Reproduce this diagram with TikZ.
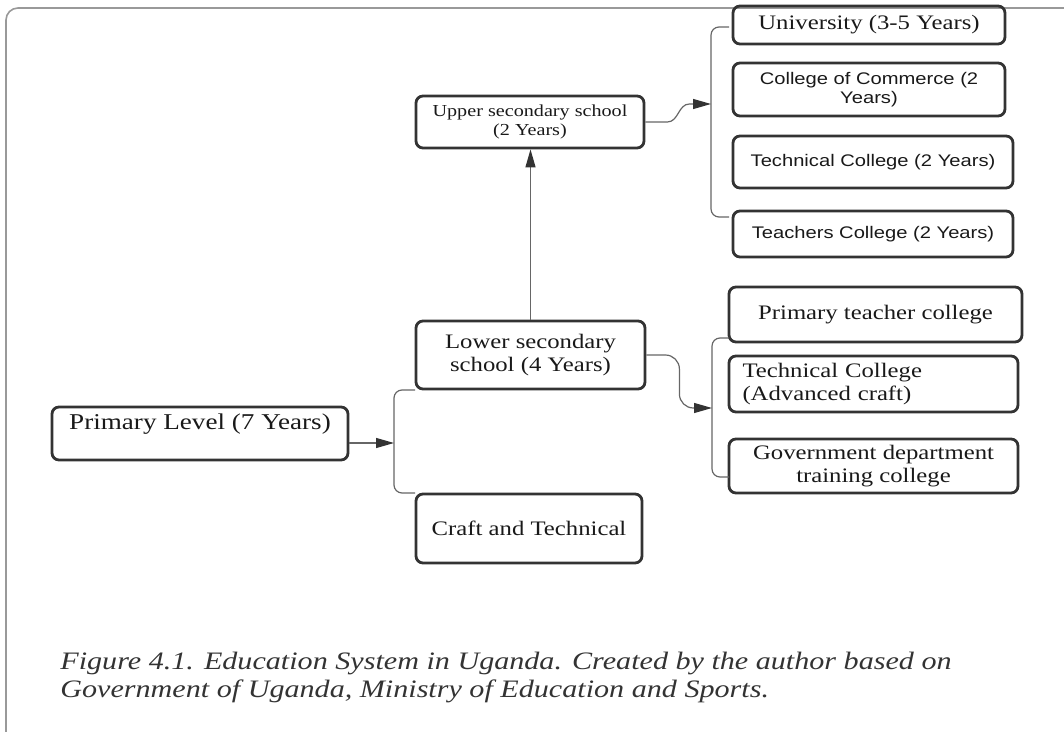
\documentclass[tikz,border=0pt]{standalone}
\usepackage{fontspec}
\setmainfont{Liberation Serif}[FakeStretch=1.2]
\newfontfamily\boxsans{Liberation Sans}[FakeStretch=1.2]
\usetikzlibrary{arrows.meta}
\definecolor{boxline}{HTML}{333333}
\definecolor{linkgray}{HTML}{666666}
\definecolor{framegray}{HTML}{999999}
\definecolor{capgray}{HTML}{333333}
\newcommand\boxfont{\fontsize{10.3}{11.6}\selectfont}
\newcommand\smallboxfont{\fontsize{8.4}{9.2}\selectfont}
\newcommand\bigboxfont{\fontsize{11.3}{13}\selectfont}
\newcommand\sansboxfont{\boxsans\fontsize{8.4}{9.4}\selectfont}
\newcommand\figcapfont{\itshape\fontsize{12.55}{13.6}\selectfont}
\begin{document}
\begin{tikzpicture}[x=0.5pt, y=-0.5pt,
  box/.style={draw=boxline, line width=1.4pt, rounded corners=3.5pt, align=center, inner sep=2pt, text=black!90},
  link/.style={draw=linkgray, line width=0.6pt},
  tip/.style={-{Triangle[length=9pt,width=5pt,color=boxline]}}]
\useasboundingbox (0,0) rectangle (1064,732);
\draw[framegray, line width=0.8pt, rounded corners=6pt] (6,732) -- (6,8) -- (1064,8);

\node[box, minimum width=136pt, minimum height=19pt, font=\boxfont] (uni) at (869,25) {University (3-5 Years)};
\node[box, minimum width=136pt, minimum height=26.5pt, font=\sansboxfont] (comm) at (869,89.5) {College of Commerce (2\\Years)};
\node[box, minimum width=140pt, minimum height=26pt, font=\sansboxfont] (techc) at (873,162) {Technical College (2 Years)};
\node[box, minimum width=140pt, minimum height=23pt, font=\sansboxfont] (teach) at (873,234) {Teachers College (2 Years)};

\node[box, minimum width=114pt, minimum height=26pt, font=\smallboxfont] (upper) at (530,122) {Upper secondary school\\(2 Years)};
\node[box, minimum width=114.5pt, minimum height=34pt, font=\boxfont] (lower) at (530.5,355) {Lower secondary\\school (4 Years)};
\node[box, minimum width=148pt, minimum height=26.5pt, font=\bigboxfont] (primary) at (200,433.5) {\raisebox{5pt}[0.7em][0.2em]{Primary Level (7 Years)}};
\node[box, minimum width=113pt, minimum height=34.5pt, font=\boxfont] (craft) at (529,528.5) {Craft and Technical};

\node[box, minimum width=146.5pt, minimum height=27.5pt, font=\boxfont] (ptc) at (875.5,314.5) {Primary teacher college};
\node[box, minimum width=144.5pt, minimum height=28pt, text width=131pt, inner xsep=6.75pt, align=left, font=\boxfont] (tca) at (873.5,384) {Technical College\\(Advanced craft)};
\node[box, minimum width=144.5pt, minimum height=27pt, font=\boxfont] (gov) at (873.5,466) {Government department\\training college};

\coordinate (ubt) at (729,27);
\coordinate (ubb) at (729,217);
\coordinate (ubr) at (711,104);
\coordinate (lbt) at (729,338);
\coordinate (lbb) at (729,477);
\coordinate (lbr) at (712,408);
\coordinate (pbt) at (415,390);
\coordinate (pbb) at (415,493);
\coordinate (pbr) at (394,443);

\draw[link, rounded corners=4pt] (ubt) -| (ubr) |- (ubb);
\draw[link, rounded corners=4pt] (lbt) -| (lbr) |- (lbb);
\draw[link, rounded corners=4pt] (pbt) -| (pbr) |- (pbb);

\draw[link, tip] (upper.east) -- ++(22,0) to[out=0, in=180] ++(22,-18) -- (ubr);
\draw[link, tip, rounded corners=7pt] (lower.east) -- ++(33,0) |- (lbr);
\draw[link, tip] (primary.east |- pbr) -- (pbr);
\draw[link, tip] (lower.north) -- (lower.north |- upper.south);

\node[anchor=north west, align=left, inner sep=0pt, font=\figcapfont, text=capgray] (cap) at (60,652) {Figure 4.1. Education System in Uganda. Created by the author based on\\Government of Uganda, Ministry of Education and Sports.};
\end{tikzpicture}
\end{document}
